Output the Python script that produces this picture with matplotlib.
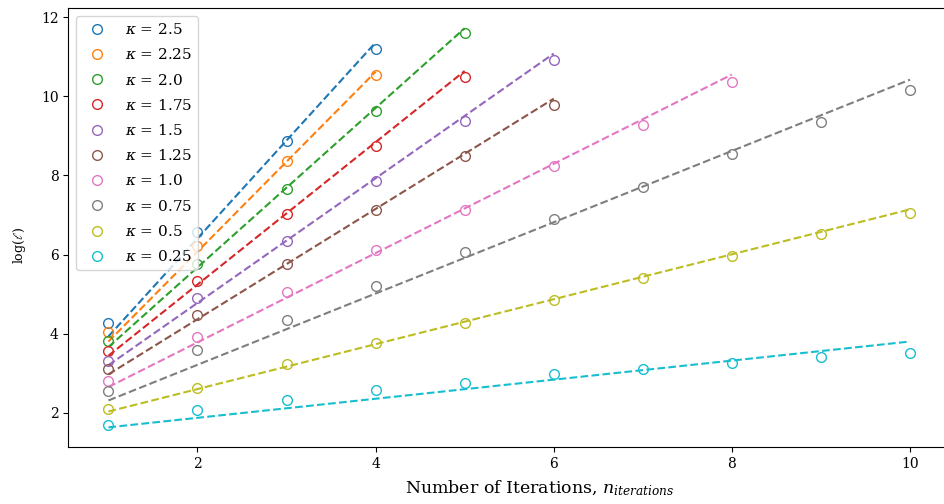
import numpy as np
import matplotlib
matplotlib.use("Agg")
import matplotlib.pyplot as plt

plt.rcParams["font.family"] = ["DejaVu Serif"]
plt.rcParams["mathtext.fontset"] = "dejavuserif"

kappas = ["2.5", "2.25", "2.0", "1.75", "1.5", "1.25", "1.0", "0.75", "0.5", "0.25"]

# measured log(ell) per iteration count
log_ell = [
    [4.26, 6.57, 8.86, 11.19],
    [4.03, 6.21, 8.36, 10.53],
    [3.81, 5.75, 7.65, 9.62, 11.60],
    [3.55, 5.32, 7.03, 8.75, 10.50],
    [3.30, 4.91, 6.34, 7.86, 9.37, 10.91],
    [3.10, 4.48, 5.77, 7.12, 8.48, 9.77],
    [2.80, 3.92, 5.05, 6.12, 7.13, 8.23, 9.28, 10.37],
    [2.54, 3.58, 4.35, 5.21, 6.06, 6.91, 7.71, 8.53, 9.35, 10.15],
    [2.09, 2.63, 3.24, 3.75, 4.26, 4.84, 5.41, 5.96, 6.51, 7.06],
    [1.69, 2.06, 2.33, 2.57, 2.76, 2.97, 3.10, 3.26, 3.41, 3.52],
]

# fitted trend: value at n=1 and at the last iteration
fit_start = [3.93, 3.80, 3.66, 3.44, 3.20, 2.97, 2.65, 2.31, 2.03, 1.63]
fit_end = [11.36, 10.62, 11.72, 10.64, 11.08, 9.94, 10.55, 10.42, 7.14, 3.80]

colors = plt.rcParams["axes.prop_cycle"].by_key()["color"]

fig = plt.figure(figsize=(9.44, 5.04), dpi=100)
ax = fig.add_axes([0.0724, 0.1125, 1.0064 - 0.0724, 0.9835 - 0.1125])

for i, (k, vals) in enumerate(zip(kappas, log_ell)):
    n = np.arange(1, len(vals) + 1)
    c = colors[i % len(colors)]
    ax.plot(n, vals, "o", mfc="none", mec=c, ms=7, label=r"$\kappa$ = " + k)
    ax.plot([n[0], n[-1]], [fit_start[i], fit_end[i]], "--", color=c, lw=1.5)

ax.set_xlabel(r"Number of Iterations, $n_{iterations}$", fontsize=12.5)
ax.set_ylabel(r"$\log(\ell)$", fontsize=9)
ax.xaxis.set_label_coords(0.535, -0.072)
ax.yaxis.set_label_coords(-0.046, 0.46)
ax.legend(loc="upper left", fontsize=11, labelspacing=0.67)

fig.savefig("out.png", dpi=100)
